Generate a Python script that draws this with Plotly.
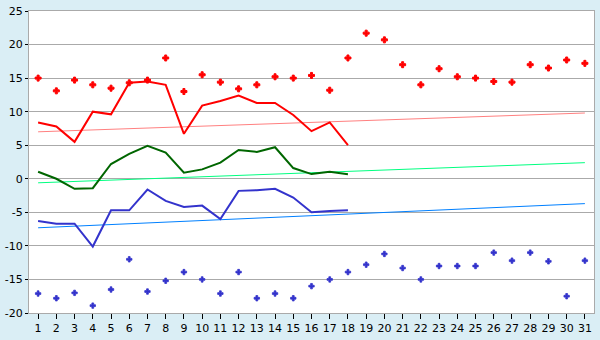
import plotly.graph_objects as go

days = list(range(1, 32))

max_points = [15.0, 13.1, 14.7, 14.0, 13.5, 14.3, 14.7, 18.0, 13.0, 15.5,
              14.4, 13.4, 14.0, 15.2, 15.0, 15.4, 13.2, 18.0, 21.7, 20.7,
              17.0, 14.0, 16.4, 15.2, 15.0, 14.5, 14.4, 17.0, 16.5, 17.7, 17.2]

min_points = [-17.1, -17.8, -17.0, -18.9, -16.5, -12.0, -16.8, -15.2, -13.9, -15.0,
              -17.1, -13.9, -17.8, -17.1, -17.8, -16.0, -15.0, -13.9, -12.8, -11.2,
              -13.3, -15.0, -13.0, -13.0, -13.0, -11.0, -12.2, -11.0, -12.3, -17.5, -12.2]

line_days = list(range(1, 19))
max_line = [8.4, 7.8, 5.5, 10.0, 9.6, 14.3, 14.5, 14.0, 6.7, 10.9,
            11.6, 12.4, 11.3, 11.3, 9.5, 7.1, 8.4, 5.0]
mean_line = [1.05, 0.0, -1.5, -1.4, 2.2, 3.7, 4.9, 3.9, 0.9, 1.4,
             2.4, 4.3, 4.0, 4.7, 1.6, 0.7, 1.05, 0.67]
min_line = [-6.3, -6.7, -6.7, -10.1, -4.7, -4.7, -1.6, -3.3, -4.2, -4.0,
            -6.0, -1.8, -1.7, -1.5, -2.8, -5.0, -4.8, -4.7]

trend_days = [1, 31]
trend_max = [7.0, 9.8]
trend_mean = [-0.6, 2.4]
trend_min = [-7.3, -3.7]

y_ticks = [-20, -15, -10, -5, 0, 5, 10, 15, 20, 25]

fig = go.Figure()

fig.add_trace(go.Scatter(x=trend_days, y=trend_max, mode="lines",
                         line=dict(color="#FF8080", width=1)))
fig.add_trace(go.Scatter(x=trend_days, y=trend_mean, mode="lines",
                         line=dict(color="#00FF80", width=1)))
fig.add_trace(go.Scatter(x=trend_days, y=trend_min, mode="lines",
                         line=dict(color="#0080FF", width=1)))

fig.add_trace(go.Scatter(x=line_days, y=max_line, mode="lines",
                         line=dict(color="#FF0000", width=2)))
fig.add_trace(go.Scatter(x=line_days, y=mean_line, mode="lines",
                         line=dict(color="#006600", width=2)))
fig.add_trace(go.Scatter(x=line_days, y=min_line, mode="lines",
                         line=dict(color="#3333CC", width=2)))

fig.add_trace(go.Scatter(x=days, y=max_points, mode="markers",
                         marker=dict(symbol="cross", size=5, color="#FF0000",
                                     line=dict(width=1, color="#FF0000"))))
fig.add_trace(go.Scatter(x=days, y=min_points, mode="markers",
                         marker=dict(symbol="cross", size=4.5, color="#3333CC",
                                     line=dict(width=0.8, color="#3333CC"))))

fig.update_layout(
    width=600, height=340,
    margin=dict(l=27, r=5, t=5, b=20),
    paper_bgcolor="#DAEEF5",
    plot_bgcolor="#FFFFFF",
    showlegend=False,
    font=dict(family="DejaVu Sans", size=11, color="#000000"),
)
fig.update_xaxes(
    range=[0.5, 31.5], tickvals=days, ticktext=[str(d) for d in days],
    showgrid=False, zeroline=False,
    showline=True, linecolor="#AAAAAA", linewidth=1, mirror=True,
    ticks="outside", ticklen=5, tickcolor="#000000", tickwidth=1,
)
fig.update_yaxes(
    range=[-20, 25], tickvals=y_ticks, ticktext=[str(v) for v in y_ticks],
    showgrid=True, gridcolor="#AAAAAA", gridwidth=1, zeroline=False,
    showline=True, linecolor="#AAAAAA", linewidth=1, mirror=True,
    ticks="outside", ticklen=3, tickcolor="#000000", tickwidth=1,
    ticklabeloverflow="allow",
)

fig.write_html("out.html")
